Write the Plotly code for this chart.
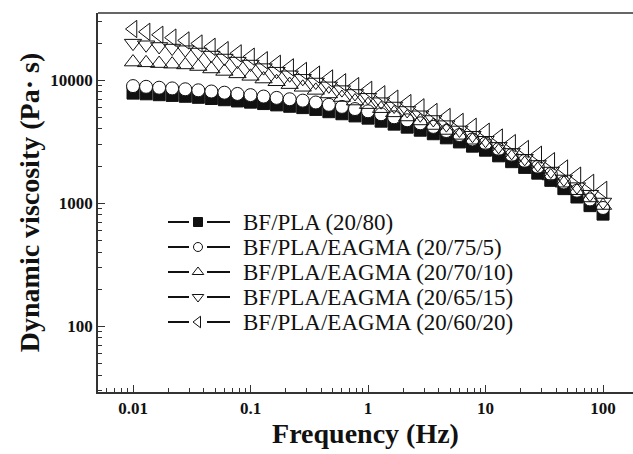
import plotly.graph_objects as go

freq = [0.01, 0.01292, 0.01668, 0.02154, 0.02783, 0.03594, 0.04642, 0.05995, 0.07743,
        0.1, 0.1292, 0.1668, 0.2154, 0.2783, 0.3594, 0.4642, 0.5995, 0.7743,
        1.0, 1.292, 1.668, 2.154, 2.783, 3.594, 4.642, 5.995, 7.743,
        10.0, 12.92, 16.68, 21.54, 27.83, 35.94, 46.42, 59.95, 77.43, 100.0]

bf_pla = [7830, 7730, 7600, 7500, 7380, 7240, 7080, 6920, 6760,
          6610, 6440, 6280, 6120, 5970, 5770, 5530, 5320, 5110,
          4900, 4630, 4380, 4140, 3910, 3660, 3390, 3140, 2900,
          2690, 2420, 2170, 1950, 1750, 1530, 1310, 1120, 953, 813]

eagma_5 = [8930, 8810, 8660, 8550, 8410, 8250, 8070, 7890, 7710,
           7540, 7340, 7160, 6980, 6800, 6570, 6290, 6050, 5810,
           5570, 5270, 4980, 4710, 4450, 4160, 3850, 3570, 3290,
           3050, 2740, 2450, 2200, 1970, 1720, 1470, 1260, 1070, 912]

eagma_10 = [14000, 13800, 13610, 13460, 13270, 12880, 12300, 11750, 11220,
            10720, 10190, 9680, 9180, 8730, 8240, 7710, 7210, 6750,
            6310, 5850, 5410, 5010, 4650, 4270, 3890, 3550, 3240,
            2950, 2640, 2360, 2100, 1880, 1660, 1450, 1260, 1100, 955]

eagma_15 = [19950, 19360, 18750, 18200, 17660, 16900, 15960, 15100, 14260,
            13490, 12620, 11800, 11040, 10330, 9640, 8970, 8360, 7780,
            7240, 6670, 6150, 5660, 5220, 4780, 4340, 3930, 3560,
            3240, 2890, 2580, 2310, 2060, 1820, 1570, 1360, 1180, 1020]

eagma_20 = [26000, 24660, 23330, 22130, 20990, 19820, 18620, 17500, 16480,
            15490, 14490, 13550, 12680, 11860, 11070, 10300, 9590, 8930,
            8320, 7660, 7060, 6500, 6000, 5500, 5010, 4570, 4170,
            3800, 3410, 3070, 2750, 2470, 2190, 1910, 1670, 1460, 1280]

names = ["BF/PLA (20/80)", "BF/PLA/EAGMA (20/75/5)", "BF/PLA/EAGMA (20/70/10)",
         "BF/PLA/EAGMA (20/65/15)", "BF/PLA/EAGMA (20/60/20)"]
series = [bf_pla, eagma_5, eagma_10, eagma_15, eagma_20]

x_ticks = [0.01, 0.1, 1, 10, 100]
x_tick_text = ["0.01", "0.1", "1", "10", "100"]
y_ticks = [100, 1000, 10000]
y_tick_text = ["100", "1000", "10000"]
x_minor = [m * d for d in (0.001, 0.01, 0.1, 1, 10, 100) for m in range(2, 10)]
y_minor = [m * d for d in (10, 100, 1000, 10000) for m in range(2, 10)]

INK = "#111111"
styles = [
    dict(symbol="square", fill=INK, size=12),
    dict(symbol="circle", fill="white", size=13),
    dict(symbol="triangle-up-open", fill=INK, size=15),
    dict(symbol="triangle-down-open", fill=INK, size=15),
    dict(symbol="triangle-left-open", fill=INK, size=15),
]
legend_styles = [
    dict(symbol="square", fill=INK, size=9),
    dict(symbol="circle", fill="white", size=9),
    dict(symbol="triangle-up", fill="white", size=10),
    dict(symbol="triangle-down", fill="white", size=10),
    dict(symbol="triangle-left", fill="white", size=10),
]

fig = go.Figure()
for nm, vals, st in zip(names, series, styles):
    fig.add_trace(go.Scatter(
        x=freq, y=vals, mode="markers", name=nm, showlegend=False,
        marker=dict(symbol=st["symbol"], size=st["size"], color=st["fill"],
                    line=dict(color=INK, width=1)),
    ))

# hand-placed legend (pixel-space overlay axes) to reproduce the tight row spacing
row0, row_gap = 222, 25
sx = 168
for i, (nm, st) in enumerate(zip(names, legend_styles)):
    yy = row0 + i * row_gap
    fig.add_trace(go.Scatter(
        x=[sx, sx + 21, None, sx + 39, sx + 62], y=[yy, yy, None, yy, yy], mode="lines",
        xaxis="x2", yaxis="y2", showlegend=False, hoverinfo="skip",
        line=dict(color=INK, width=2),
    ))
    fig.add_trace(go.Scatter(
        x=[sx + 30], y=[yy], mode="markers", xaxis="x2", yaxis="y2",
        showlegend=False, hoverinfo="skip",
        marker=dict(symbol=st["symbol"], size=st["size"], color=st["fill"],
                    line=dict(color=INK, width=1)),
    ))
    fig.add_annotation(x=sx + 73, y=yy, xref="x2", yref="y2", text=nm,
                       showarrow=False, xanchor="left", yanchor="middle",
                       font=dict(family="Liberation Serif", size=23, color=INK))

axis_common = dict(
    type="log", showgrid=False, zeroline=False,
    showline=True, linecolor="#333333", linewidth=1.5, mirror=False,
    ticks="inside", ticklen=7, tickwidth=1, tickcolor="#333333",
    tickfont=dict(family="Liberation Serif", size=17, color=INK),
)

fig.update_layout(
    width=633, height=454,
    margin=dict(l=98, r=0, t=13, b=62),
    paper_bgcolor="white", plot_bgcolor="white",
    font=dict(family="Liberation Serif", color=INK),
    showlegend=False,
    xaxis=dict(**axis_common, range=[-2.298, 2.255],
               tickvals=x_ticks, ticktext=["<b>%s</b>" % t for t in x_tick_text],
               minor=dict(tickmode="array", tickvals=x_minor, ticks="inside",
                          ticklen=4, tickwidth=1, tickcolor="#333333"),
               title=dict(text="<b>Frequency (Hz)</b>",
                          font=dict(family="Liberation Serif", size=28, color=INK),
                          standoff=5)),
    yaxis=dict(**axis_common, range=[1.464, 4.545],
               tickvals=y_ticks, ticktext=["<b>%s</b>" % t for t in y_tick_text],
               minor=dict(tickmode="array", tickvals=y_minor, ticks="inside",
                          ticklen=4, tickwidth=1, tickcolor="#333333"),
               title=dict(text="<b>Dynamic viscosity (Pa· s)</b>",
                          font=dict(family="Liberation Serif", size=28, color=INK),
                          standoff=3)),
    xaxis2=dict(overlaying="x", anchor="y2", range=[98, 633], visible=False,
                fixedrange=True),
    yaxis2=dict(overlaying="y", anchor="x2", range=[392, 13], visible=False,
                fixedrange=True),
)

# top frame line
fig.add_shape(type="line", xref="paper", yref="paper", x0=0, x1=1, y0=1, y1=1,
              line=dict(color="#333333", width=1.5))

fig.write_html("out.html")
